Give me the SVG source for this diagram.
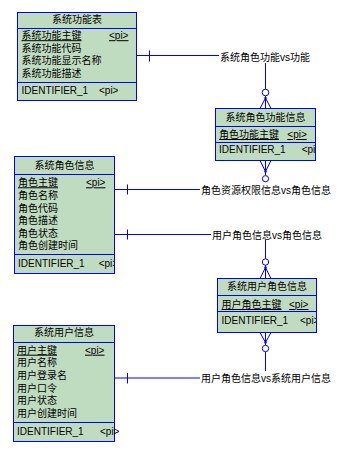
<svg xmlns="http://www.w3.org/2000/svg" width="348" height="460" viewBox="0 0 348 460">
<style>
.box{fill:#C0DCC0;stroke:#0000FF;stroke-width:1}
.sep{stroke:#0000FF;stroke-width:1;fill:none}
text{font-family:"Liberation Sans","Noto Sans CJK SC",sans-serif;font-size:10px;fill:#000}
.h{text-anchor:middle}
.k{text-decoration:underline}
.ln{stroke:#0000FF;stroke-width:1;fill:none}
.c{fill:#FFFFFF;stroke:#0000FF;stroke-width:1}
.d{fill:#0000FF}
</style>
<defs>
<clipPath id="cl2"><rect x="216" y="109" width="99" height="51"/></clipPath>
<clipPath id="cl3"><rect x="15" y="157" width="99" height="116"/></clipPath>
<clipPath id="cl4"><rect x="218" y="279" width="98" height="53"/></clipPath>
</defs>
<rect width="348" height="460" fill="#FFFFFF"/>

<g id="connectors">
<path class="ln" d="M136.5 55.5 H219 M149.5 50.5 V61.5 M265.5 63 V89.2 M265.5 95.8 V98 M265.5 98 L260 108.5 M265.5 98 V108.5 M265.5 98 L271 108.5"/>
<circle class="c" cx="265.5" cy="92.5" r="3.3"/>
<circle class="d" cx="265.5" cy="98" r="1.2"/>
<text x="220" y="60.5">系统角色功能vs功能</text>

<path class="ln" d="M114.5 189.5 H200 M127.5 184.5 V194.5 M260 160.5 L265.5 171.5 M265.5 160.5 V175.5 M271 160.5 L265.5 171.5"/>
<circle class="c" cx="265.5" cy="178.7" r="3.1"/>
<circle class="d" cx="265.5" cy="171.5" r="1.2"/>
<text x="201" y="194">角色资源权限信息vs角色信息</text>

<path class="ln" d="M114.5 234.5 H211 M127.5 229.5 V239.5 M265.5 240 V258.8 M265.5 265.2 V267.5 M265.5 267.5 L260 278.5 M265.5 267.5 V278.5 M265.5 267.5 L271 278.5"/>
<circle class="c" cx="265.5" cy="262" r="3.2"/>
<circle class="d" cx="265.5" cy="267.5" r="1.2"/>
<text x="212" y="238.7">用户角色信息vs角色信息</text>

<path class="ln" d="M114.5 378 H200 M127.5 373 V383.5 M260 332.5 L265.5 342.5 M265.5 332.5 V345.2 M271 332.5 L265.5 342.5 M265.5 351.8 V371"/>
<circle class="c" cx="265.5" cy="348.5" r="3.2"/>
<circle class="d" cx="265.5" cy="342.5" r="1.2"/>
<text x="201" y="382">用户角色信息vs系统用户信息</text>
</g>

<g id="sys-func">
<rect class="box" x="17.5" y="12.5" width="119" height="88"/>
<path class="sep" d="M17.5 28.5 H136.5 M17.5 82.5 H136.5"/>
<text class="h" x="77" y="23">系统功能表</text>
<text class="k" x="21.5" y="39.2">系统功能主键</text>
<text class="k" x="109" y="39.2">&lt;pi&gt;</text>
<text x="21.5" y="51.8">系统功能代码</text>
<text x="21.5" y="64.3">系统功能显示名称</text>
<text x="21.5" y="76.8">系统功能描述</text>
<text x="21.5" y="94">IDENTIFIER_1</text>
<text x="99" y="94">&lt;pi&gt;</text>
</g>

<g id="sys-role-func">
<rect class="box" x="215.5" y="108.5" width="100" height="52"/>
<path class="sep" d="M215.5 126.5 H315.5 M215.5 142.5 H315.5"/>
<text class="h" x="265.5" y="120.8">系统角色功能信息</text>
<text class="k" x="219" y="138">角色功能主键</text>
<text class="k" x="287.3" y="138">&lt;pi&gt;</text>
<g clip-path="url(#cl2)">
<text x="219" y="152.7">IDENTIFIER_1</text>
<text x="301.7" y="152.7">&lt;pi&gt;</text>
</g>
</g>

<g id="sys-role">
<rect class="box" x="14.5" y="156.5" width="100" height="117"/>
<path class="sep" d="M14.5 174.5 H114.5 M14.5 254.5 H114.5"/>
<text class="h" x="64.5" y="169">系统角色信息</text>
<text class="k" x="18" y="186.3">角色主键</text>
<text class="k" x="86" y="186.3">&lt;pi&gt;</text>
<text x="18" y="198.9">角色名称</text>
<text x="18" y="211.5">角色代码</text>
<text x="18" y="224.1">角色描述</text>
<text x="18" y="236.7">角色状态</text>
<text x="18" y="249.3">角色创建时间</text>
<g clip-path="url(#cl3)">
<text x="18" y="266.5">IDENTIFIER_1</text>
<text x="98.7" y="266.5">&lt;pi&gt;</text>
</g>
</g>

<g id="sys-user-role">
<rect class="box" x="217.5" y="278.5" width="99" height="54"/>
<path class="sep" d="M217.5 295.5 H316.5 M217.5 311.5 H316.5"/>
<text class="h" x="267" y="290.3">系统用户角色信息</text>
<text class="k" x="221.5" y="308">用户角色主键</text>
<text class="k" x="289" y="308">&lt;pi&gt;</text>
<g clip-path="url(#cl4)">
<text x="221.5" y="324">IDENTIFIER_1</text>
<text x="300" y="324">&lt;pi&gt;</text>
</g>
</g>

<g id="sys-user">
<rect class="box" x="13.5" y="325.5" width="101" height="116"/>
<path class="sep" d="M13.5 342.5 H114.5 M13.5 422.5 H114.5"/>
<text class="h" x="64" y="336.3">系统用户信息</text>
<text class="k" x="17" y="353.7">用户主键</text>
<text class="k" x="85" y="353.7">&lt;pi&gt;</text>
<text x="17" y="366.3">用户名称</text>
<text x="17" y="379">用户登录名</text>
<text x="17" y="391.7">用户口令</text>
<text x="17" y="404.4">用户状态</text>
<text x="17" y="417">用户创建时间</text>
<text x="17" y="435">IDENTIFIER_1</text>
<text x="100" y="435">&lt;pi&gt;</text>
</g>
</svg>
